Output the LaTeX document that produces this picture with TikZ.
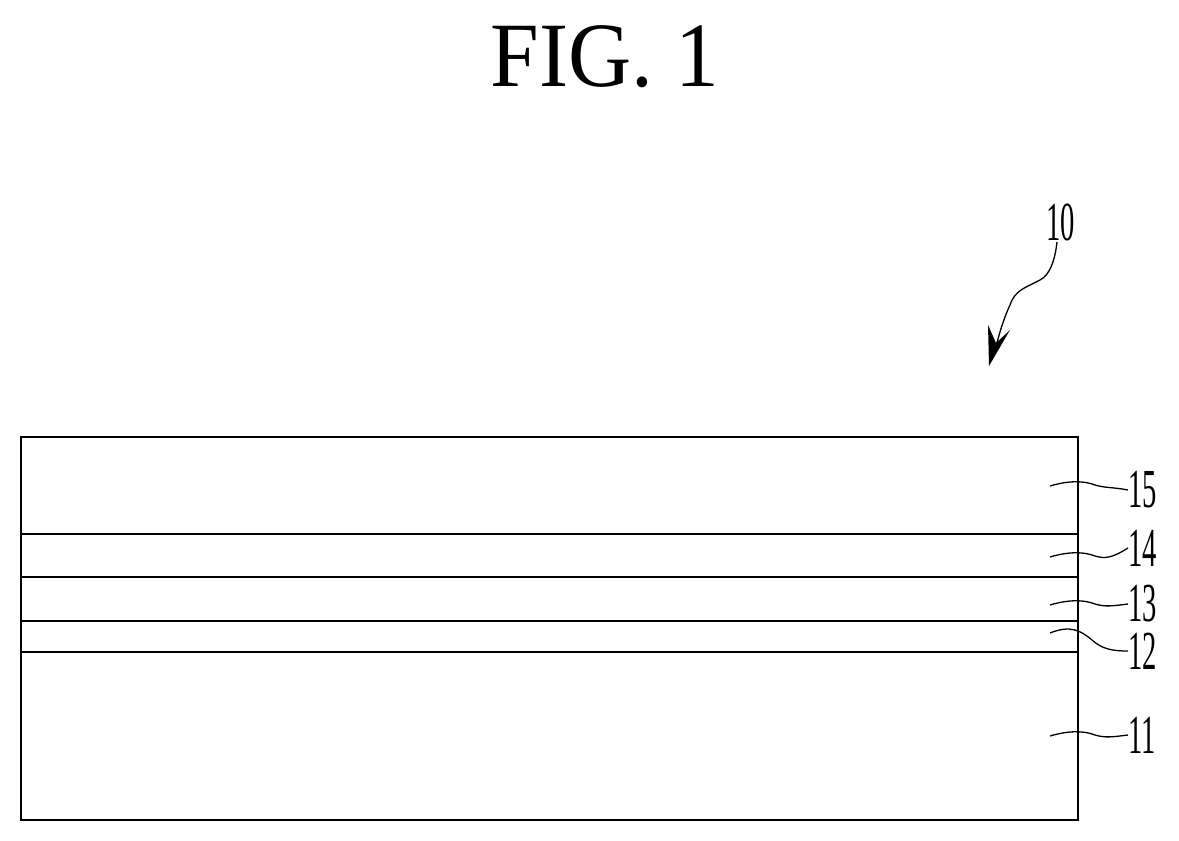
\documentclass[tikz,border=0pt]{standalone}
\usepackage{fontspec}
\setmainfont{Liberation Serif}
\begin{document}
\begin{tikzpicture}[x=1pt,y=-1pt,
  layer/.style={line width=2.8pt},
  lead/.style={line width=1.3pt},
  lab/.style={inner sep=0pt,anchor=west,font=\fontsize{55}{55}\selectfont}]
\useasboundingbox (0,0) rectangle (1179,841);
\node[inner sep=0pt] (title) at (605,57) {\scalebox{0.95}[1]{\fontsize{92}{92}\selectfont FIG. 1}};
% box
\draw[layer] (21,437) rectangle (1078,820);
\foreach \y in {534,577,621,652} \draw[layer] (21,\y) -- (1078,\y);
% labels
\node[lab] (l10) at (1046,222) {\scalebox{0.52}[1]{10}};
\node[lab] (l15) at (1128,490) {\scalebox{0.52}[1]{15}};
\node[lab] (l14) at (1128,548) {\scalebox{0.52}[1]{14}};
\node[lab] (l13) at (1128,604) {\scalebox{0.52}[1]{13}};
\node[lab] (l12) at (1128,651) {\scalebox{0.52}[1]{12}};
\node[lab] (l11) at (1128,735) {\scalebox{0.52}[1]{11}};
% leaders
\draw[lead] (1050,486) .. controls (1070,480) and (1085,481) .. (1095,485) .. controls (1105,488) and (1112,487) .. (l15.west);
\draw[lead] (1050,557) .. controls (1070,551) and (1085,552) .. (1095,556) .. controls (1105,559) and (1112,558) .. (l14.west);
\draw[lead] (1050,605) .. controls (1070,599) and (1085,600) .. (1095,604) .. controls (1105,607) and (1112,606) .. (l13.west);
\draw[lead] (1050,633) .. controls (1070,625) and (1080,630) .. (1092,640) .. controls (1102,649) and (1112,651) .. (l12.west);
\draw[lead] (1050,736) .. controls (1070,730) and (1085,731) .. (1095,735) .. controls (1105,738) and (1112,737) .. (l11.west);
% arrow 10
\coordinate (a0) at (1057,242);
\coordinate (a1) at (989,366);
\draw[lead] (a0) .. controls (1055,260) and (1050,275) .. (1040,280) .. controls (1025,288) and (1015,290) .. (1010,305) .. controls (1003,320) and (999,335) .. (995,350);
\fill (a1) -- (988,325) -- (996,343) -- (1010,330) -- cycle;
\end{tikzpicture}
\end{document}
